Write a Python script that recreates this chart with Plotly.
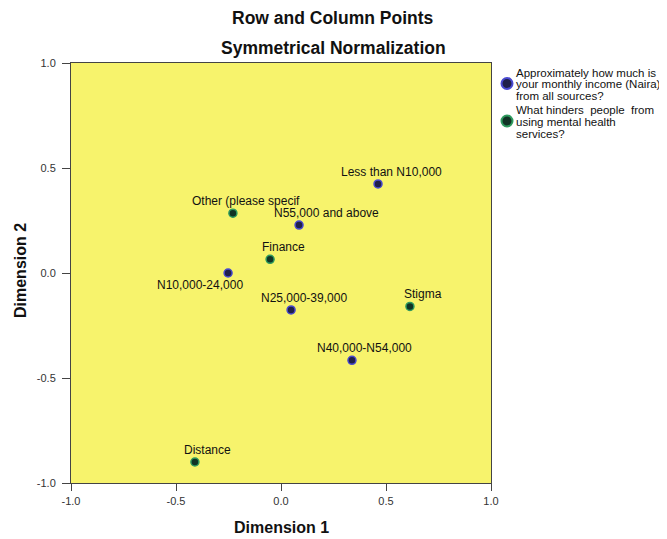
import plotly.graph_objects as go

# ---- data ----
row_labels = ["Less than N10,000", "N10,000-24,000", "N25,000-39,000", "N40,000-N54,000", "N55,000 and above"]
row_dim1 = [0.462, -0.252, 0.048, 0.338, 0.086]
row_dim2 = [0.424, 0.000, -0.176, -0.416, 0.228]

col_labels = ["Finance", "Stigma", "Distance", "Other (please specif"]
col_dim1 = [-0.052, 0.614, -0.410, -0.229]
col_dim2 = [0.065, -0.159, -0.900, 0.285]

row_legend_lines = ["Approximately how much is", "your monthly income (Naira)", "from all sources?"]
col_legend_lines = ["What hinders  people  from", "using mental health", "services?"]

tick_vals = [-1.0, -0.5, 0.0, 0.5, 1.0]
tick_text = ["-1.0", "-0.5", "0.0", "0.5", "1.0"]

# ---- style / layout geometry (pixels, in window coordinates) ----
OFF = 8                      # default page body margin
W, H = 667 - OFF, 539 - OFF  # figure size
PL, PT, PW, PH = 71, 63, 420, 420   # plot area in window pixels
L, T = PL - OFF, PT - OFF
FONT = "Liberation Sans, Arial, sans-serif"
ROW_FILL, ROW_LINE = "#20204a", "#4a4ad0"
COL_FILL, COL_LINE = "#113325", "#2f9a5e"
label_shift = {  # pixel offsets of the point labels
    "N55,000 and above": (27, 12),
    "N10,000-24,000": (-28, -12),
}
default_shift = (13, 12)


def px(xp):
    return (xp - PL) / PW


def py(yp):
    return (PT + PH - yp) / PH


fig = go.Figure()
fig.add_trace(go.Scatter(x=row_dim1, y=row_dim2, mode="markers", name="rows",
                         marker=dict(size=8, color=ROW_FILL, line=dict(color=ROW_LINE, width=1.5))))
fig.add_trace(go.Scatter(x=col_dim1, y=col_dim2, mode="markers", name="columns",
                         marker=dict(size=8, color=COL_FILL, line=dict(color=COL_LINE, width=1.5))))

for labels, xs, ys in [(row_labels, row_dim1, row_dim2), (col_labels, col_dim1, col_dim2)]:
    for lab, xv, yv in zip(labels, xs, ys):
        dx, dy = label_shift.get(lab, default_shift)
        fig.add_annotation(x=xv, y=yv, text=lab, showarrow=False, xshift=dx, yshift=dy,
                           font=dict(family=FONT, size=12, color="#111"))

# titles
fig.add_annotation(x=px(333), y=py(18), xref="paper", yref="paper", xanchor="center", yanchor="middle",
                   text="<b>Row and Column Points</b>", showarrow=False,
                   font=dict(family=FONT, size=17.5, color="#111"))
fig.add_annotation(x=px(333), y=py(48), xref="paper", yref="paper", xanchor="center", yanchor="middle",
                   text="<b>Symmetrical Normalization</b>", showarrow=False,
                   font=dict(family=FONT, size=17.5, color="#111"))
# axis titles
fig.add_annotation(x=0.5, y=py(527), xref="paper", yref="paper", xanchor="center", yanchor="middle",
                   text="<b>Dimension 1</b>", showarrow=False,
                   font=dict(family=FONT, size=16, color="#111"))
fig.add_annotation(x=px(20), y=py(271), xref="paper", yref="paper", xanchor="center", yanchor="middle",
                   text="<b>Dimension 2</b>", showarrow=False, textangle=-90,
                   font=dict(family=FONT, size=16, color="#111"))

# legend (drawn manually)
for lines, y0, fill, edge in [(row_legend_lines, 72.5, ROW_FILL, ROW_LINE),
                              (col_legend_lines, 110, COL_FILL, COL_LINE)]:
    for i, line in enumerate(lines):
        fig.add_annotation(x=px(514), y=py(y0 + 11.8 * i), xref="paper", yref="paper",
                           xanchor="left", yanchor="middle", text=line, showarrow=False,
                           font=dict(family=FONT, size=11.5, color="#111"))
    fig.add_shape(type="circle", xref="paper", yref="paper", xsizemode="pixel", ysizemode="pixel",
                  xanchor=px(507), yanchor=py(y0 + 11), x0=-5.5, x1=5.5, y0=-5.5, y1=5.5,
                  fillcolor=fill, line=dict(color=edge, width=2))

axis_common = dict(range=[-1, 1], tickvals=tick_vals, ticktext=tick_text, showgrid=False, zeroline=False,
                   showline=True, linecolor="#444", linewidth=1, mirror=True,
                   ticks="outside", ticklen=8, tickcolor="#444",
                   tickfont=dict(family=FONT, size=11, color="#333"))

fig.update_layout(
    width=W, height=H,
    margin=dict(l=L, r=W - L - PW, t=T, b=H - T - PH, autoexpand=False),
    paper_bgcolor="white", plot_bgcolor="#F7F36C",
    font=dict(family=FONT),
    xaxis=dict(axis_common, ticklen=7, ticklabelstandoff=1),
    yaxis=dict(axis_common, ticklabelstandoff=4),
    showlegend=False,
)

fig.write_html("out.html")
